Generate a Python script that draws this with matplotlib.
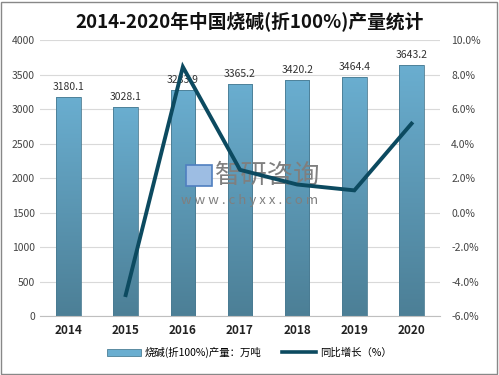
import matplotlib
matplotlib.use("Agg")
import matplotlib.pyplot as plt
import matplotlib.ticker as mticker
from matplotlib.patches import Patch, Rectangle
from matplotlib.lines import Line2D
from matplotlib.colors import LinearSegmentedColormap
import numpy as np

plt.rcParams['font.family'] = ['Noto Sans CJK SC', 'DejaVu Sans']

years = ["2014", "2015", "2016", "2017", "2018", "2019", "2020"]
output = [3180.1, 3028.1, 3283.9, 3365.2, 3420.2, 3464.4, 3643.2]
growth = [None, -4.78, 8.45, 2.48, 1.63, 1.29, 5.16]

BAR_TOP = "#6aaed0"
BAR_BOT = "#4c7f96"
LINE_C = "#0c4a60"

fig = plt.figure(figsize=(4.99, 3.75), dpi=100, facecolor="#fff")
ax = fig.add_axes([0.080, 0.157, 0.802, 0.736])
ax2 = ax.twinx()

x = np.arange(len(years))
w = 0.43
cmap = LinearSegmentedColormap.from_list("bar", [BAR_BOT, BAR_TOP])
grad = np.linspace(0, 1, 256).reshape(-1, 1)
for xi, v in zip(x, output):
    im = ax.imshow(grad, extent=[xi - w / 2, xi + w / 2, 0, v], origin="lower",
                   aspect="auto", cmap=cmap, zorder=2)
    r = Rectangle((xi - w / 2, 0), w, v, facecolor="none", edgecolor="#4a7b92", lw=0.6, zorder=3)
    ax.add_patch(r)
    im.set_clip_path(r)
    ax.text(xi, v + 70, f"{v:.1f}", ha="center", va="bottom", fontsize=7.5, color="#333", zorder=4)

ax.set_xlim(-0.5, len(years) - 0.5)
ax.set_ylim(0, 4000)
ax.set_yticks(range(0, 4001, 500))
ax.set_xticks(x)
ax.set_xticklabels(years, fontsize=8.5, fontweight="bold", color="#222")
ax.tick_params(axis="y", labelsize=7.5, colors="#444", length=0)
ax.tick_params(axis="x", length=0, pad=6)
ax.grid(axis="y", color="#d9d9d9", lw=0.8, zorder=0)
ax.set_axisbelow(True)
for s in ["top", "right", "left"]:
    ax.spines[s].set_visible(False)
ax.spines["bottom"].set_color("#bfbfbf")

gx = [i for i, g in enumerate(growth) if g is not None]
gy = [g for g in growth if g is not None]
ax2.plot(gx, gy, color=LINE_C, lw=2.8, zorder=5, solid_joinstyle="miter")
ax2.set_ylim(-6, 10)
ax2.set_yticks(range(-6, 11, 2))
ax2.yaxis.set_major_formatter(mticker.FuncFormatter(lambda v, _: f"{v:.1f}%"))
ax2.tick_params(axis="y", labelsize=7.5, colors="#444", length=0, pad=8)
for s in ["top", "right", "left", "bottom"]:
    ax2.spines[s].set_visible(False)

# watermark
ax2.text(0.537, 0.533, "智研咨询", transform=fig.transFigure, fontsize=19, color="#7f7f7f",
         ha="center", va="center", zorder=4)
ax2.text(0.50, 0.465, "w w w . c h y x x . c o m", transform=fig.transFigure, fontsize=9.5,
         color="#7f7f7f", ha="center", va="center", zorder=4)
ax2.add_patch(Rectangle((0.372, 0.503), 0.052, 0.058, transform=fig.transFigure,
                        facecolor="#9dbde3", edgecolor="#4f7fc0", lw=1.2, zorder=4))

fig.text(0.5, 0.942, "2014-2020年中国烧碱(折100%)产量统计", ha="center", va="center",
         fontsize=13.5, fontweight="bold", color="#111")

handles = [Patch(facecolor=BAR_TOP, edgecolor=BAR_BOT, lw=0.6),
           Line2D([0], [0], color=LINE_C, lw=2.6)]
fig.legend(handles, ["烧碱(折100%)产量：万吨", "同比增长（%）"], loc="center",
           bbox_to_anchor=(0.5, 0.06), ncol=2, frameon=False, fontsize=7.5,
           handlelength=3.2, handleheight=0.6, columnspacing=2.0, handletextpad=0.4)

fig.add_artist(Rectangle((0.002, 0.003), 0.994, 0.993, transform=fig.transFigure,
                         fill=False, edgecolor="#888", lw=1.0))

fig.savefig("out.png", dpi=100, facecolor=fig.get_facecolor())
